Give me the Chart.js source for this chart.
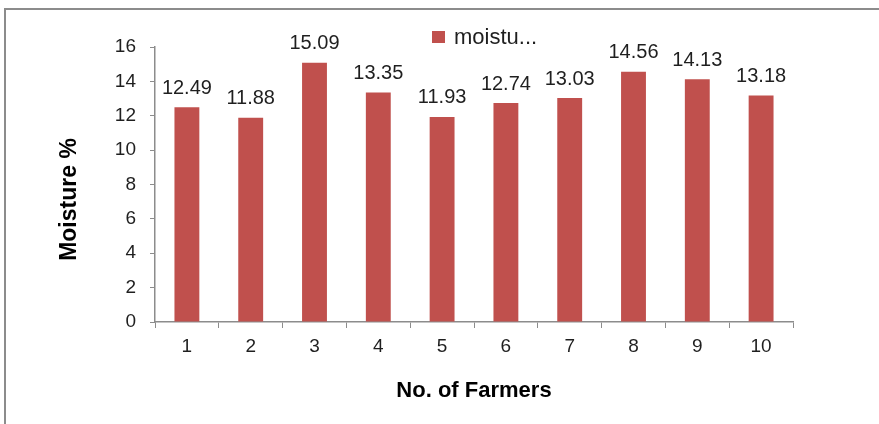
<!DOCTYPE html>
<html>
<head>
<meta charset="utf-8">
<script src="https://cdn.jsdelivr.net/npm/chart.js@4"></script>
<style>
  html, body { margin: 0; padding: 0; background: #ffffff; }
  #wrap { position: relative; width: 879px; height: 424px; overflow: hidden; }
  #frame { position: absolute; left: 4px; top: 8px; width: 900px; height: 500px;
           border-left: 2px solid #8c8c8c; border-top: 2px solid #8c8c8c; }
  canvas { position: absolute; left: 0; top: 0; }
</style>
</head>
<body>
<div id="wrap">
  <div id="frame"></div>
  <canvas id="c" width="879" height="424"></canvas>
</div>
<script>
const categories = ["1", "2", "3", "4", "5", "6", "7", "8", "9", "10"];
const moistureValues = [12.49, 11.88, 15.09, 13.35, 11.93, 12.74, 13.03, 14.56, 14.13, 13.18];
const valueLabels = ["12.49", "11.88", "15.09", "13.35", "11.93", "12.74", "13.03", "14.56", "14.13", "13.18"];
const seriesName = "moistu...";
const yTicks = [0, 2, 4, 6, 8, 10, 12, 14, 16];
const xTitle = "No. of Farmers";
const yTitle = "Moisture %";

const BAR_COLOR = "#c0504d";
const AXIS_COLOR = "#8c8c8c";
const FONT = "'Liberation Sans', Arial, sans-serif";

const valueLabelPlugin = {
  id: "valueLabels",
  afterDatasetsDraw(chart) {
    const ctx = chart.ctx;
    const meta = chart.getDatasetMeta(0);
    ctx.save();
    ctx.font = "20px " + FONT;
    ctx.fillStyle = "#1f1f1f";
    ctx.textAlign = "center";
    ctx.textBaseline = "middle";
    meta.data.forEach((bar, i) => {
      ctx.fillText(valueLabels[i], bar.x, bar.y - 19);
    });
    ctx.restore();
  }
};

const legendPlugin = {
  id: "customLegend",
  afterDraw(chart) {
    const ctx = chart.ctx;
    const ds = chart.data.datasets[0];
    ctx.save();
    ctx.fillStyle = ds.backgroundColor;
    ctx.fillRect(432, 31, 13, 12);
    ctx.font = "22px " + FONT;
    ctx.fillStyle = "#1f1f1f";
    ctx.textAlign = "left";
    ctx.textBaseline = "middle";
    ctx.fillText(ds.label, 454, 38);
    ctx.restore();
  }
};

const yTitlePlugin = {
  id: "yTitle",
  afterDraw(chart) {
    const ctx = chart.ctx;
    const area = chart.chartArea;
    ctx.save();
    ctx.translate(70, (area.top + area.bottom) / 2 + 15);
    ctx.rotate(-Math.PI / 2);
    ctx.font = "bold 23px " + FONT;
    ctx.fillStyle = "#000000";
    ctx.textAlign = "center";
    ctx.textBaseline = "middle";
    ctx.fillText(yTitle, 0, 0);
    ctx.restore();
  }
};

new Chart(document.getElementById("c"), {
  type: "bar",
  data: {
    labels: categories,
    datasets: [{
      label: seriesName,
      data: moistureValues,
      backgroundColor: BAR_COLOR,
      borderWidth: 0,
      barPercentage: 0.39,
      categoryPercentage: 1.0
    }]
  },
  options: {
    responsive: false,
    animation: false,
    devicePixelRatio: 1,
    layout: { padding: { left: 53, right: 86, top: 47, bottom: 17 } },
    plugins: {
      legend: { display: false },
      tooltip: { enabled: false }
    },
    scales: {
      x: {
        offset: true,
        grid: {
          display: true,
          drawOnChartArea: false,
          drawTicks: true,
          tickLength: 6,
          color: AXIS_COLOR,
          offset: true
        },
        border: { display: true, color: AXIS_COLOR, width: 1.5 },
        ticks: {
          font: { size: 19, family: FONT },
          color: "#1f1f1f",
          padding: 7,
          maxRotation: 0
        },
        title: {
          display: true,
          text: xTitle,
          font: { size: 22, weight: "bold", family: FONT },
          color: "#000000",
          padding: { top: 3, bottom: 3 }
        },
        afterFit(scale) { scale.height = 424 - 17 - 322; }
      },
      y: {
        min: 0,
        max: 16,
        afterBuildTicks(scale) { scale.ticks = yTicks.map(v => ({ value: v })); },
        grid: {
          display: true,
          drawOnChartArea: false,
          drawTicks: true,
          tickLength: 5,
          color: AXIS_COLOR
        },
        border: { display: true, color: AXIS_COLOR, width: 1.5 },
        ticks: {
          font: { size: 19, family: FONT },
          color: "#1f1f1f",
          padding: 14
        },
        title: { display: false },
        afterFit(scale) { scale.width = 155 - 53; }
      }
    }
  },
  plugins: [valueLabelPlugin, legendPlugin, yTitlePlugin]
});
</script>
</body>
</html>
